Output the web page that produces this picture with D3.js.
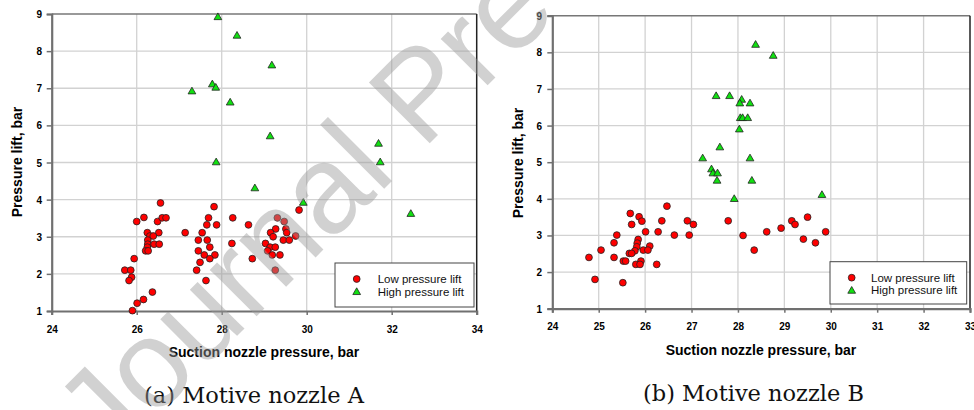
<!DOCTYPE html>
<html>
<head>
<meta charset="utf-8">
<script src="https://cdn.jsdelivr.net/npm/d3@7"></script>
<style>
  html, body { margin: 0; padding: 0; background: #fff; }
  svg { display: block; }
</style>
</head>
<body>
<svg id="chart" width="974" height="410"></svg>
<script>
// ---------- DATA ----------
const xTicksA = [24, 26, 28, 30, 32, 34];
const xTicksB = [24, 25, 26, 27, 28, 29, 30, 31, 32, 33];
const yTicks = [1, 2, 3, 4, 5, 6, 7, 8, 9];
const seriesNames = ["Low pressure lift", "High pressure lift"];
const captions = ["(a) Motive nozzle A", "(b) Motive nozzle B"];
const xTitle = "Suction nozzle pressure, bar";
const yTitle = "Pressure lift, bar";

// Motive nozzle A, low pressure lift [suction pressure, lift]
const lowA = [
  [26.56,3.91],[26.0,3.41],[26.17,3.52],[26.49,3.41],[26.6,3.51],[26.69,3.51],
  [26.25,3.11],[26.52,3.11],[26.31,3.02],[26.39,3.02],[26.26,2.91],[26.26,2.80],
  [26.41,2.80],[26.53,2.80],[26.25,2.72],[26.21,2.62],[26.27,2.62],[25.94,2.41],
  [25.72,2.10],[25.86,2.10],[25.88,1.91],[25.82,1.82],[26.37,1.51],[26.16,1.31],
  [26.01,1.21],[25.9,1.01],
  [27.82,3.81],[27.69,3.51],[27.65,3.32],[27.88,3.32],[27.14,3.11],[27.54,3.11],
  [27.45,2.91],[27.66,2.91],[27.72,2.72],[27.45,2.62],[27.59,2.51],[27.84,2.51],
  [27.72,2.41],[27.49,2.31],[27.41,2.10],[27.63,1.82],
  [28.26,3.51],[28.63,3.32],[28.24,2.82],[28.72,2.41],
  [29.82,3.72],[29.31,3.51],[29.47,3.41],[29.27,3.21],[29.51,3.21],[29.53,3.11],
  [29.15,3.11],[29.21,3.0],[29.74,3.02],[29.03,2.82],[29.45,2.91],[29.59,2.91],
  [29.14,2.72],[29.26,2.72],[29.08,2.62],[29.19,2.51],[29.37,2.51],[29.26,2.10]
];
// Motive nozzle A, high pressure lift
const highA = [
  [27.91,8.93],[28.36,8.43],[27.78,7.12],[27.86,7.03],[27.3,6.93],[28.2,6.63],
  [27.87,5.02],[29.18,7.63],[29.14,5.72],[31.69,5.52],[31.73,5.02],[28.78,4.32],
  [29.92,3.93],[32.45,3.63]
];
// Motive nozzle B, low pressure lift
const lowB = [
  [26.47,3.80],[25.68,3.60],[25.87,3.51],[25.93,3.39],[25.71,3.30],[26.36,3.40],
  [26.91,3.40],[27.04,3.30],[25.39,3.01],[26.01,3.10],[26.28,3.10],[26.63,3.01],
  [26.95,3.01],[25.05,2.60],[25.33,2.80],[25.85,2.89],[25.83,2.79],[25.82,2.69],
  [26.10,2.71],[25.96,2.60],[26.06,2.60],[25.78,2.58],[25.66,2.51],[25.71,2.51],
  [24.79,2.40],[25.33,2.40],[25.53,2.30],[25.58,2.30],[25.91,2.30],[25.80,2.21],
  [25.89,2.21],[26.25,2.21],[24.92,1.80],[25.52,1.71],
  [27.79,3.40],[28.11,3.0],[28.35,2.60],[28.62,3.10],[28.93,3.20],[29.16,3.40],
  [29.23,3.30],[29.50,3.50],[29.41,2.90],[29.67,2.80],[29.89,3.10]
];
// Motive nozzle B, high pressure lift
const highB = [
  [28.38,8.22],[28.76,7.92],[27.53,6.82],[27.82,6.82],[28.08,6.72],[28.04,6.62],
  [28.26,6.62],[28.05,6.22],[28.10,6.22],[28.21,6.22],[28.03,5.91],[27.61,5.42],
  [27.24,5.12],[28.26,5.12],[27.43,4.82],[27.46,4.71],[27.56,4.71],[27.55,4.51],
  [28.30,4.51],[27.92,4.01],[29.81,4.12]
];

// ---------- DRAW ----------
const svg = d3.select("#chart");
const RED = "#ff0000", GREEN = "#11e011";

const panels = [
  { low: lowA, high: highA, xDomain: [24, 34], xTicks: xTicksA,
    x0: 51.7, x1: 476.7, yTop: 14, yBot: 311,
    yTitleX: 22, yTitleY: 162, xTitleX: 264, xTitleY: 357, xLabY: 332.5, yLabX: 42,
    cap: captions[0], capX: 254, capY: 403,
    leg: { x: 335, y: 263, w: 139, h: 44, mx: 356.7, tx: 377.7 } },
  { low: lowB, high: highB, xDomain: [24, 33], xTicks: xTicksB,
    x0: 552.3, x1: 970, yTop: 15.7, yBot: 308.7,
    yTitleX: 523, yTitleY: 163, xTitleX: 761, xTitleY: 355, xLabY: 330, yLabX: 542,
    cap: captions[1], capX: 753.5, capY: 401,
    leg: { x: 830, y: 261.7, w: 136.7, h: 42.3, mx: 851.7, tx: 871 } }
];

const tri = d3.symbol().type(d3.symbolTriangle).size(26);

panels.forEach(p => {
  const x = d3.scaleLinear().domain(p.xDomain).range([p.x0, p.x1]);
  const y = d3.scaleLinear().domain([1, 9]).range([p.yBot, p.yTop]);
  const g = svg.append("g");

  // gridlines
  g.selectAll(".vg").data(p.xTicks.slice(1, -1)).join("line")
    .attr("x1", d => x(d)).attr("x2", d => x(d))
    .attr("y1", p.yTop).attr("y2", p.yBot)
    .attr("stroke", "#d2d2d2").attr("stroke-width", 1.3);
  g.selectAll(".hg").data(yTicks.slice(1, -1)).join("line")
    .attr("x1", p.x0).attr("x2", p.x1)
    .attr("y1", d => y(d)).attr("y2", d => y(d))
    .attr("stroke", "#d2d2d2").attr("stroke-width", 1.3);

  // frame top / right
  g.append("line").attr("x1", p.x0).attr("x2", p.x1).attr("y1", p.yTop).attr("y2", p.yTop)
    .attr("stroke", "#777").attr("stroke-width", 1.5);
  g.append("line").attr("x1", p.x1).attr("x2", p.x1).attr("y1", p.yTop).attr("y2", p.yBot)
    .attr("stroke", "#222").attr("stroke-width", 1.5);

  // axes
  const xAxis = d3.axisBottom(x).tickValues(p.xTicks).tickSize(4).tickFormat(d3.format("d"));
  const yAxis = d3.axisLeft(y).tickValues(yTicks).tickSize(5).tickFormat(d3.format("d"));
  const gx = g.append("g").attr("transform", `translate(0,${p.yBot})`).call(xAxis);
  const gy = g.append("g").attr("transform", `translate(${p.x0},0)`).call(yAxis);
  [gx, gy].forEach(a => {
    a.select(".domain").attr("stroke", "#707070").attr("stroke-width", 2.2);
    a.selectAll(".tick line").attr("stroke", "#707070").attr("stroke-width", 1.5);
    a.selectAll(".tick text").attr("font-family", "Liberation Sans, Arial, sans-serif")
      .attr("font-weight", "bold").attr("font-size", "10px").attr("fill", "#000");
  });
  gx.selectAll(".tick text").attr("dy", null).attr("y", p.xLabY - p.yBot);
  gy.selectAll(".tick text").attr("x", p.yLabX - p.x0).attr("dy", "0.35em");

  // titles
  g.append("text").attr("x", p.xTitleX).attr("y", p.xTitleY)
    .attr("text-anchor", "middle").attr("font-family", "Liberation Sans, Arial, sans-serif")
    .attr("font-weight", "bold").attr("font-size", "14px").text(xTitle);
  g.append("text").attr("transform", `translate(${p.yTitleX},${p.yTitleY}) rotate(-90)`)
    .attr("text-anchor", "middle").attr("font-family", "Liberation Sans, Arial, sans-serif")
    .attr("font-weight", "bold").attr("font-size", "14px").text(yTitle);

  // points
  g.selectAll(".lo").data(p.low).join("circle")
    .attr("cx", d => x(d[0])).attr("cy", d => y(d[1])).attr("r", 3.4)
    .attr("fill", RED).attr("stroke", "#222").attr("stroke-width", 0.8);
  g.selectAll(".hi").data(p.high).join("path")
    .attr("d", tri)
    .attr("transform", d => `translate(${x(d[0])},${y(d[1]) + 0.8})`)
    .attr("fill", GREEN).attr("stroke", "#222").attr("stroke-width", 0.8);

  // legend
  const L = p.leg;
  g.append("rect").attr("x", L.x).attr("y", L.y).attr("width", L.w).attr("height", L.h)
    .attr("fill", "#fff").attr("stroke", "#444").attr("stroke-width", 1);
  const r1 = L.y + 16, r2 = L.y + 28.5;
  g.append("circle").attr("cx", L.mx).attr("cy", r1).attr("r", 3.4)
    .attr("fill", RED).attr("stroke", "#222").attr("stroke-width", 0.8);
  g.append("path").attr("d", tri).attr("transform", `translate(${L.mx},${r2 + 0.8})`)
    .attr("fill", GREEN).attr("stroke", "#222").attr("stroke-width", 0.8);
  [[seriesNames[0], r1], [seriesNames[1], r2]].forEach(([t, yy]) => {
    g.append("text").attr("x", L.tx).attr("y", yy).attr("dy", "0.36em")
      .attr("font-family", "Liberation Sans, Arial, sans-serif").attr("font-size", "11.5px")
      .attr("fill", "#111").text(t);
  });

  // caption
  g.append("text").attr("x", p.capX).attr("y", p.capY).attr("text-anchor", "middle")
    .attr("font-family", "DejaVu Serif, serif").attr("font-size", "22.5px")
    .attr("fill", "#111").text(p.cap);
});

// watermark
svg.append("text")
  .attr("transform", "translate(108,465) rotate(-45)")
  .attr("font-family", "Liberation Sans, Arial, sans-serif")
  .attr("font-size", "125px")
  .attr("fill", "#9a9a9a").attr("fill-opacity", 0.45)
  .text("Journal Pre-proof");
</script>
</body>
</html>
